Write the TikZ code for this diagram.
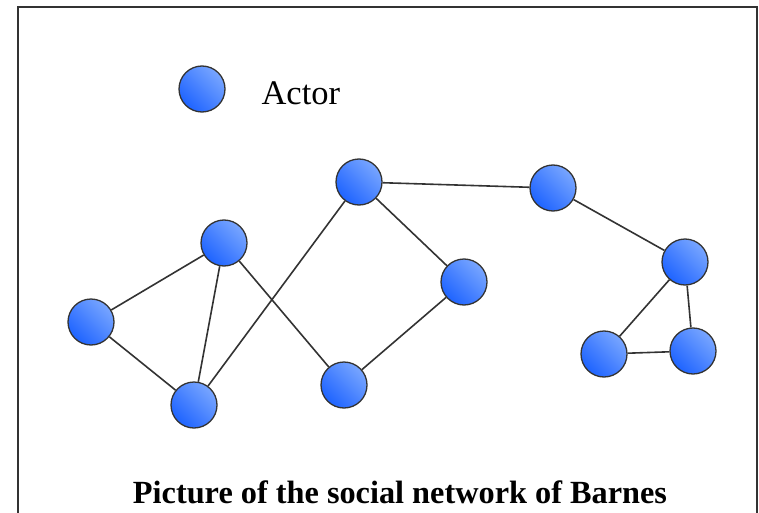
\documentclass[tikz,border=0pt]{standalone}
\usepackage{fontspec}
\setmainfont{Liberation Serif}
\definecolor{actlight}{RGB}{120,165,255}
\definecolor{actdark}{RGB}{30,100,255}
\begin{document}
\begin{tikzpicture}[x=1pt,y=-1pt,
  actor/.style={circle,draw=black!80,line width=1.3pt,minimum size=46pt,inner sep=0pt,
    left color=actdark, right color=actlight,
    shading angle=135},
  link/.style={draw=black!80,line width=1.6pt}]
\useasboundingbox (0,0) rectangle (759,513);
\draw[line width=2pt,draw=black!80] (17.5,513) -- (17.5,7.5) -- (756.5,7.5) -- (756.5,513);
% legend
\node[actor] (leg) at (202,89) {};
\node[anchor=west,font=\fontsize{34.5}{38}\selectfont] (legt) at (258,93) {Actor};
% actors
\node[actor] (a) at (91,322) {};
\node[actor] (b) at (224,243) {};
\node[actor] (c) at (194,405) {};
\node[actor] (d) at (359,182) {};
\node[actor] (e) at (464,282) {};
\node[actor] (f) at (344,385) {};
\node[actor] (g) at (553,188) {};
\node[actor] (h) at (685,262) {};
\node[actor] (i) at (604,354) {};
\node[actor] (j) at (693,351) {};
% links
\draw[link] (a) -- (b);
\draw[link] (a) -- (c);
\draw[link] (b) -- (c);
\draw[link] (b) -- (f);
\draw[link] (c) -- (d);
\draw[link] (d) -- (e);
\draw[link] (e) -- (f);
\draw[link] (d) -- (g);
\draw[link] (g) -- (h);
\draw[link] (h) -- (i);
\draw[link] (h) -- (j);
\draw[link] (i) -- (j);
% caption
\node[font=\bfseries\fontsize{32.3}{36}\selectfont] (cap) at (400,492) {Picture of the social network of Barnes};
\end{tikzpicture}
\end{document}
